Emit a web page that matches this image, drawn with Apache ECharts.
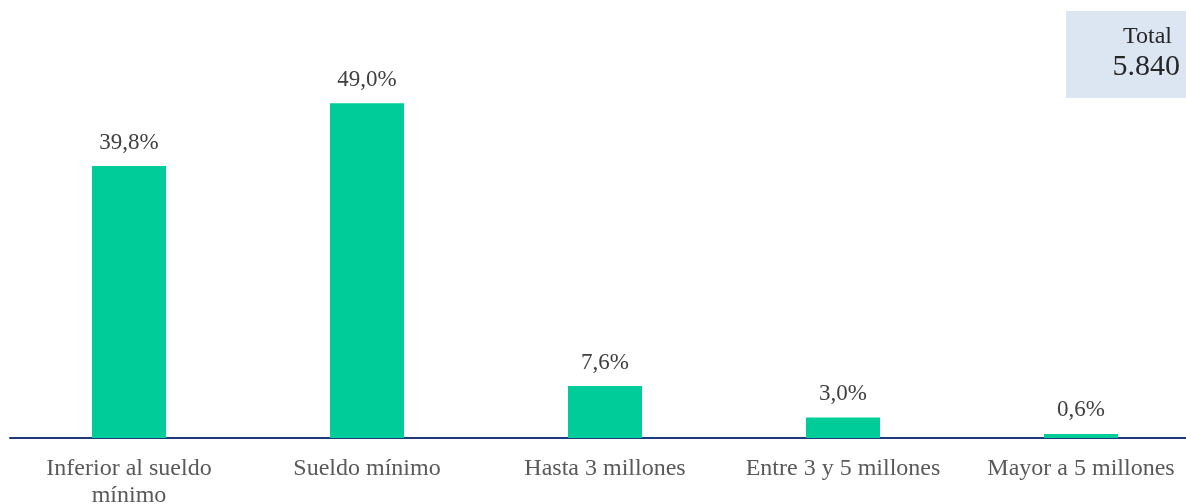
<!DOCTYPE html>
<html><head><meta charset="utf-8">
<script src="https://cdn.jsdelivr.net/npm/echarts@6/dist/echarts.min.js"></script>
<style>html,body{margin:0;padding:0;background:#fff}#c{width:1186px;height:504px}</style>
</head><body><div id="c"></div>
<script>
const categories = ['Inferior al sueldo\nmínimo', 'Sueldo mínimo', 'Hasta 3 millones', 'Entre 3 y 5 millones', 'Mayor a 5 millones'];
const values = [39.8, 49.0, 7.6, 3.0, 0.6];
const totalLabel = 'Total';
const totalValue = '5.840';
const font = '"Liberation Serif", "Times New Roman", serif';
const chart = echarts.init(document.getElementById('c'));
chart.setOption({
  animation: false,
  grid: {left: 10, top: 28, width: 1190, height: 410, containLabel: false, outerBoundsMode: 'none'},
  xAxis: {
    type: 'category', data: categories,
    axisLine: {lineStyle: {color: '#1f3a7a', width: 2}},
    axisTick: {show: false},
    axisLabel: {color: '#595959', fontFamily: font, fontSize: 24, margin: 17, lineHeight: 27, interval: 0}
  },
  yAxis: {type: 'value', min: 0, max: 60, show: false, splitLine: {show: false}},
  series: [{
    type: 'bar', data: values, barWidth: 74,
    itemStyle: {color: '#00cc99'},
    label: {show: true, position: 'top', distance: 12, color: '#404040', fontFamily: font, fontSize: 23,
      formatter: p => p.value.toFixed(1).replace('.', ',') + '%'}
  }],
  graphic: [
    {type: 'rect', left: 1066, top: 11, shape: {width: 120, height: 87}, style: {fill: '#dce6f2'}},
    {type: 'text', right: 14, top: 25, style: {text: totalLabel, font: '24px ' + font, fill: '#262626', textAlign: 'right'}},
    {type: 'text', right: 6, top: 52, style: {text: totalValue, font: '30px ' + font, fill: '#262626', textAlign: 'right'}}
  ]
});
</script></body></html>
